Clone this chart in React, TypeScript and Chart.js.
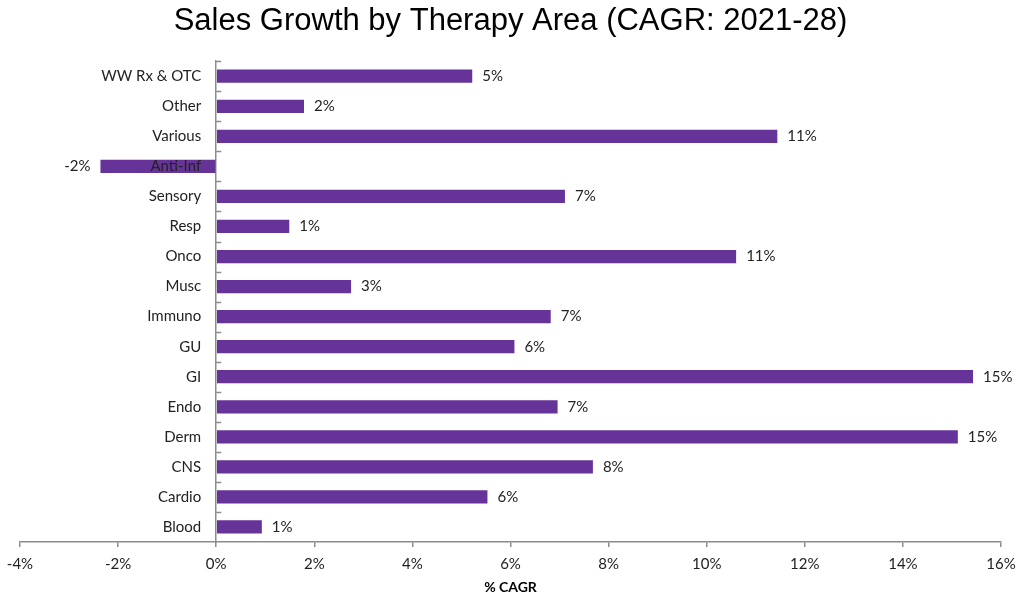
import React, { useEffect, useRef } from "react";
import { Chart, registerables } from "chart.js";

Chart.register(...registerables);

const categories = [
  "WW Rx & OTC", "Other", "Various", "Anti-Inf", "Sensory", "Resp", "Onco", "Musc",
  "Immuno", "GU", "GI", "Endo", "Derm", "CNS", "Cardio", "Blood",
];
const cagrValues = [
  5.22, 1.79, 11.44, -2.36, 7.11, 1.49, 10.6, 2.75,
  6.82, 6.08, 15.43, 6.96, 15.12, 7.68, 5.53, 0.93,
];
const xTicks = [-4, -2, 0, 2, 4, 6, 8, 10, 12, 14, 16];

const TITLE = "Sales Growth by Therapy Area (CAGR: 2021-28)";
const X_TITLE = "% CAGR";
const LABEL_FONT = "Lato, 'Open Sans', sans-serif";
const AXIS_COLOR = "#8c8c8c";
const BAR_COLOR = "#663399";

const valueLabelPlugin = {
  id: "valueLabels",
  afterDatasetsDraw(chart: any) {
    const ctx = chart.ctx;
    const meta = chart.getDatasetMeta(0);
    ctx.save();
    ctx.font = `15px ${LABEL_FONT}`;
    ctx.fillStyle = "#222";
    ctx.textBaseline = "middle";
    meta.data.forEach((bar: any, i: number) => {
      const v = cagrValues[i];
      const txt = Math.round(v) + "%";
      if (v >= 0) {
        ctx.textAlign = "left";
        ctx.fillText(txt, bar.x + 10, bar.y);
      } else {
        ctx.textAlign = "right";
        ctx.fillText(txt, bar.x - 10, bar.y);
      }
    });
    ctx.restore();
  },
};

// Category labels drawn next to the zero line (Excel "next to axis"), over the bars.
const categoryLabelPlugin = {
  id: "categoryLabels",
  afterDatasetsDraw(chart: any) {
    const ctx = chart.ctx;
    const y = chart.scales.y;
    const x0 = chart.scales.x.getPixelForValue(0);
    ctx.save();
    ctx.font = `15px ${LABEL_FONT}`;
    ctx.fillStyle = "#222";
    ctx.textBaseline = "middle";
    ctx.textAlign = "right";
    categories.forEach((c, i) => {
      ctx.fillText(c, x0 - 15, y.getPixelForValue(i));
    });
    ctx.restore();
  },
};

const innerTicksPlugin = {
  id: "innerTicks",
  afterDraw(chart: any) {
    const ctx = chart.ctx;
    const y = chart.scales.y;
    const x0 = chart.scales.x.getPixelForValue(0);
    ctx.save();
    ctx.strokeStyle = AXIS_COLOR;
    ctx.lineWidth = 1.5;
    ctx.beginPath();
    for (let i = 0; i < categories.length; i++) {
      const py = Math.round(y.getPixelForValue(i - 0.5)) + 0.5;
      ctx.moveTo(x0, py);
      ctx.lineTo(x0 + 5, py);
    }
    ctx.stroke();
    ctx.restore();
  },
};

export default function App() {
  const canvasRef = useRef<HTMLCanvasElement | null>(null);

  useEffect(() => {
    document.body.style.margin = "0";
    const canvas = canvasRef.current;
    if (!canvas) return;
    const chart = new Chart(canvas, {
      type: "bar",
      data: {
        labels: categories,
        datasets: [
          {
            data: cagrValues,
            backgroundColor: BAR_COLOR,
            borderWidth: 0,
            categoryPercentage: 1,
            barPercentage: 0.44,
          },
        ],
      },
      options: {
        indexAxis: "y",
        animation: false,
        responsive: true,
        maintainAspectRatio: false,
        layout: { padding: { left: 20, right: 18, top: 0, bottom: 0 } },
        plugins: {
          legend: { display: false },
          tooltip: { enabled: false },
          title: {
            display: true,
            text: TITLE,
            color: "#000",
            font: { family: "'Liberation Sans', Arial, sans-serif", size: 31, weight: "normal" },
            padding: { top: 3, bottom: 21 },
          },
        },
        scales: {
          x: {
            type: "linear",
            min: -4,
            max: 16,
            afterBuildTicks: (scale: any) => {
              scale.ticks = xTicks.map((v) => ({ value: v }));
            },
            ticks: {
              callback: (v: any) => v + "%",
              color: "#222",
              font: { family: LABEL_FONT, size: 15 },
              padding: 8,
              maxRotation: 0,
            },
            grid: {
              drawOnChartArea: false,
              drawTicks: true,
              tickLength: 5,
              color: AXIS_COLOR,
              lineWidth: 1.5,
            },
            border: { display: true, color: AXIS_COLOR, width: 1.5 },
            title: {
              display: true,
              text: X_TITLE,
              color: "#000",
              font: { family: LABEL_FONT, size: 14, weight: "bold" },
              padding: { top: 2, bottom: 2 },
            },
            afterFit: (scale: any) => {
              scale.height = 56;
              scale.paddingLeft = 0;
              scale.paddingRight = 0;
            },
          },
          y: {
            type: "category",
            position: { x: 0 } as any,
            offset: true,
            ticks: { display: false },
            grid: { display: false, drawTicks: false },
            border: { display: true, color: AXIS_COLOR, width: 1.5 },
            afterFit: (scale: any) => {
              scale.width = 0;
              scale.paddingTop = 0;
              scale.paddingBottom = 0;
            },
          },
        },
      },
      plugins: [valueLabelPlugin, categoryLabelPlugin, innerTicksPlugin],
    });
    return () => chart.destroy();
  }, []);

  return (
    <div style={{ position: "fixed", left: 0, top: 0, width: 1019, height: 598, background: "#fff" }}>
      <canvas ref={canvasRef} />
    </div>
  );
}
